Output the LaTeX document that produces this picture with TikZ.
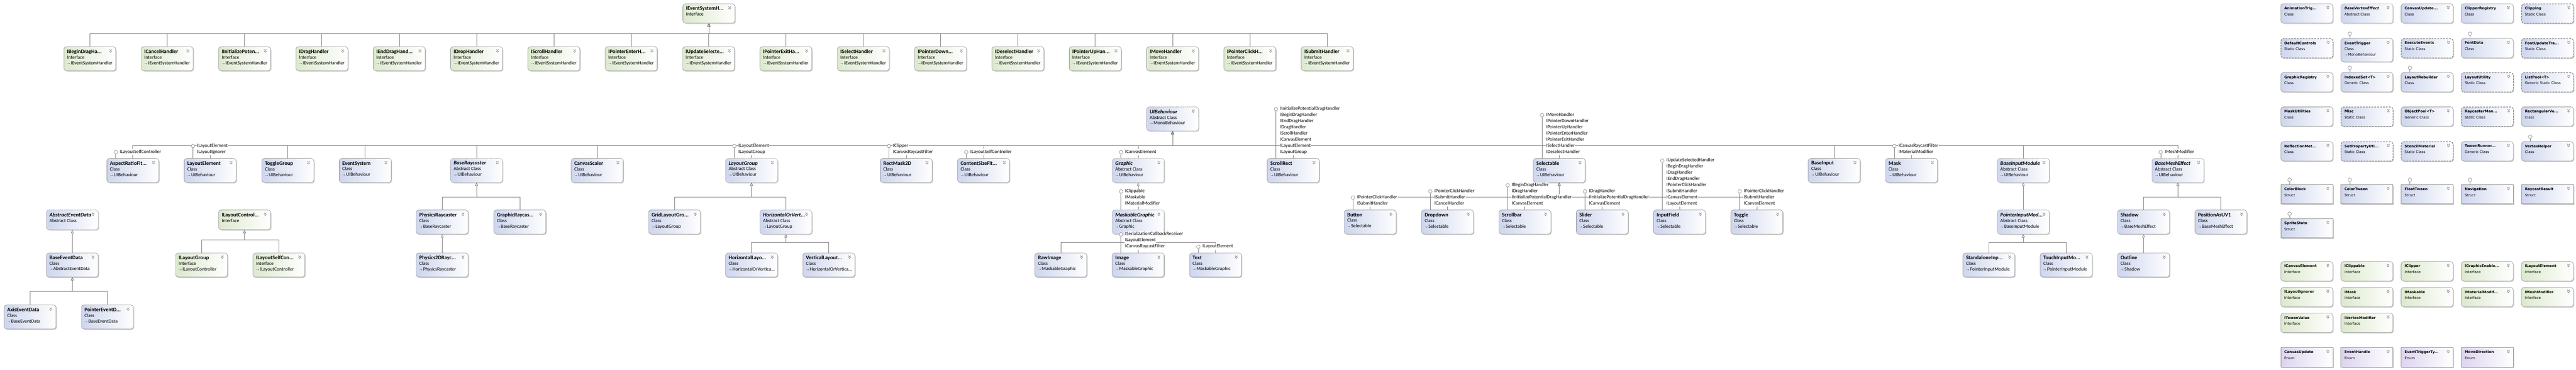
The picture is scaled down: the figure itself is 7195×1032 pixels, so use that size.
\documentclass[tikz,border=0pt]{standalone}
\usepackage{fontspec}
\setmainfont{Carlito}
\newfontfamily\gridfont{DejaVu Sans}
\usepackage{tikz}
\usetikzlibrary{positioning,arrows.meta,shadows}

\definecolor{clsblue}{RGB}{206,214,238}
\definecolor{intgreen}{RGB}{220,233,205}
\definecolor{enumpurple}{RGB}{221,212,240}
\definecolor{edgegray}{RGB}{150,150,150}
\definecolor{linegray}{RGB}{128,128,128}

\tikzset{
  shapebase/.style={draw=edgegray, line width=1pt, anchor=north west, minimum width=145pt, inner sep=0pt,
    drop shadow={shadow xshift=2.5pt, shadow yshift=-2.5pt, fill=black!40, opacity=.45}},
  classbox/.style={shapebase, rounded corners=7pt, left color=clsblue, right color=white},
  abstractbox/.style={classbox, densely dotted},
  staticbox/.style={classbox, draw=gray, line width=1.7pt, dash pattern=on 5pt off 3pt},
  ifacebox/.style={shapebase, rounded corners=7pt, left color=intgreen, right color=white},
  structbox/.style={shapebase, left color=clsblue, right color=white},
  enumbox/.style={shapebase, left color=enumpurple, right color=white},
  boxtext/.style={anchor=north west, inner sep=0pt, align=left, font=\fontsize{13.5}{15.5}\selectfont},
  gridtext/.style={anchor=north west, inner sep=0pt, align=left, font=\gridfont\fontsize{10}{16.5}\selectfont},
  conn/.style={draw=linegray, line width=1pt},
  inherit/.style={conn, -{Triangle[open, length=9pt, width=8pt]}},
  lolli/.style={circle, draw=linegray, fill=white, line width=.9pt, minimum size=10pt, inner sep=0pt},
  ifacelabel/.style={anchor=west, fill=white, inner xsep=1pt, inner ysep=0pt, minimum height=17.2pt,
    text height=9pt, text depth=3pt, font=\fontsize{13.5}{17.2}\selectfont},
  chev/.style={draw=gray, line width=1.1pt}
}

\newcommand\clsname[1]{{\fontsize{15}{15.5}\selectfont\bfseries #1}}
\newcommand\gridname[1]{{\bfseries #1}}
\newcommand\basearrow{{\footnotesize$\rightarrow$}\,}
\newcommand\more{...}

% class shape, its text and the expand chevron
\newcommand\umlbox[6]{%
  \node[#2, minimum height=#5pt] (#1) at (#3,#4) {};
  \node[boxtext] at ([shift={(9pt,-8.5pt)}]#1.north west) {#6};
  \draw[chev] ([shift={(-18.5pt,-8pt)}]#1.north east) -- ++(3.5pt,-3.5pt) -- ++(3.5pt,3.5pt)
    ([shift={(-18.5pt,-12.5pt)}]#1.north east) -- ++(3.5pt,-3.5pt) -- ++(3.5pt,3.5pt);
}
\newcommand\gridbox[6]{%
  \node[#2, minimum height=#5pt] (#1) at (#3,#4) {};
  \node[gridtext] at ([shift={(10pt,-9pt)}]#1.north west) {#6};
  \draw[chev] ([shift={(-17.5pt,-7pt)}]#1.north east) -- ++(3.5pt,-3.5pt) -- ++(3.5pt,3.5pt)
    ([shift={(-17.5pt,-11.5pt)}]#1.north east) -- ++(3.5pt,-3.5pt) -- ++(3.5pt,3.5pt);
}
% interface lollipop above a class, with the list of interfaces
\newcommand\lollipop[2]{%
  \foreach [count=\n] \lbl in {#2} {\xdef\nlines{\n}}
  \pgfmathsetlengthmacro\lift{17pt+(\nlines-1)*17.2pt}
  \node[lolli] (lp#1) at ([shift={(25pt,\lift)}]#1.north west) {};
  \draw[conn] (lp#1) -- (lp#1 |- #1.north);
  \foreach [count=\k from 0] \lbl in {#2}
    \node[ifacelabel] at ([xshift=5pt, yshift={-17.2pt*\k}]lp#1.east) {\lbl};
}

\begin{document}
\begin{tikzpicture}[x=1pt, y=-1pt]
\fill[white] (0,0) rectangle (7195,1032);
\useasboundingbox (0,0) rectangle (7195,1032);

% event system handlers
\umlbox{IEventSys}{ifacebox}{1907}{10}{54}{\clsname{IEventSystemH\more}\\Interface}
\foreach [count=\i from 0] \nm/\ttl in {IBeginDrag/IBeginDragHa\more,ICancel/ICancelHandler,IInitPot/IInitializePoten\more,IDrag/IDragHandler,IEndDrag/IEndDragHand\more,IDrop/IDropHandler,IScroll/IScrollHandler,IPtrEnter/IPointerEnterH\more,IUpdSel/IUpdateSelecte\more,IPtrExit/IPointerExitHa\more,ISelect/ISelectHandler,IPtrDown/IPointerDown\more,IDeselect/IDeselectHandler,IPtrUp/IPointerUpHan\more,IMove/IMoveHandler,IPtrClick/IPointerClickH\more,ISubmit/ISubmitHandler}
  {\umlbox{\nm}{ifacebox}{178+216*\i}{130}{67}{\clsname{\ttl}\\Interface\\\basearrow IEventSystemHandler}}

% UIBehaviour and its subclasses
\umlbox{UIBehaviour}{abstractbox}{3202}{298}{67}{\clsname{\textit{UIBehaviour}}\\Abstract Class\\\basearrow MonoBehaviour}
\foreach \nm/\st/\xx/\ttl/\kind in {AspectRatioFitter/classbox/298/AspectRatioFit\more/Class,LayoutElement/classbox/514/LayoutElement/Class,ToggleGroup/classbox/731/ToggleGroup/Class,EventSystem/classbox/947/EventSystem/Class,BaseRaycaster/abstractbox/1258/\textit{BaseRaycaster}/Abstract Class,CanvasScaler/classbox/1595/CanvasScaler/Class,LayoutGroup/abstractbox/2026/\textit{LayoutGroup}/Abstract Class,RectMask2D/classbox/2458/RectMask2D/Class,ContentSizeFitter/classbox/2674/ContentSizeFit\more/Class,Graphic/abstractbox/3106/\textit{Graphic}/Abstract Class,ScrollRect/classbox/3539/ScrollRect/Class,Selectable/classbox/4282/Selectable/Class,BaseInput/classbox/5050/BaseInput/Class,Mask/classbox/5266/Mask/Class,BaseInputModule/abstractbox/5578/\textit{BaseInputModule}/Abstract Class,BaseMeshEffect/abstractbox/6010/\textit{BaseMeshEffect}/Abstract Class}
  {\umlbox{\nm}{\st}{\xx}{442}{67}{\clsname{\ttl}\\\kind\\\basearrow UIBehaviour}}

% event data
\umlbox{AbstractEventData}{abstractbox}{129}{586}{55}{\clsname{\textit{AbstractEventData}}\\Abstract Class}
\umlbox{BaseEventData}{classbox}{129}{706}{67}{\clsname{BaseEventData}\\Class\\\basearrow AbstractEventData}
\umlbox{AxisEventData}{classbox}{11}{851}{67}{\clsname{AxisEventData}\\Class\\\basearrow BaseEventData}
\umlbox{PointerEventData}{classbox}{227}{851}{67}{\clsname{PointerEventD\more}\\Class\\\basearrow BaseEventData}

% layout controllers
\umlbox{ILayoutController}{ifacebox}{610}{586}{55}{\clsname{ILayoutControl\more}\\Interface}
\umlbox{ILayoutGroup}{ifacebox}{490}{706}{67}{\clsname{ILayoutGroup}\\Interface\\\basearrow ILayoutController}
\umlbox{ILayoutSelfController}{ifacebox}{706}{706}{67}{\clsname{ILayoutSelfCon\more}\\Interface\\\basearrow ILayoutController}

% raycasters
\umlbox{PhysicsRaycaster}{classbox}{1162}{586}{67}{\clsname{PhysicsRaycaster}\\Class\\\basearrow BaseRaycaster}
\umlbox{GraphicRaycaster}{classbox}{1379}{586}{67}{\clsname{GraphicRaycas\more}\\Class\\\basearrow BaseRaycaster}
\umlbox{Physics2DRaycaster}{classbox}{1162}{706}{67}{\clsname{Physics2DRayc\more}\\Class\\\basearrow PhysicsRaycaster}

% layout groups
\umlbox{GridLayoutGroup}{classbox}{1811}{586}{67}{\clsname{GridLayoutGro\more}\\Class\\\basearrow LayoutGroup}
\umlbox{HorOrVertLayoutGroup}{abstractbox}{2122}{586}{67}{\clsname{\textit{HorizontalOrVert\more}}\\Abstract Class\\\basearrow LayoutGroup}
\umlbox{HorizontalLayoutGroup}{classbox}{2026}{706}{67}{\clsname{HorizontalLayo\more}\\Class\\\basearrow HorizontalOrVertica\more}
\umlbox{VerticalLayoutGroup}{classbox}{2242}{706}{67}{\clsname{VerticalLayout\more}\\Class\\\basearrow HorizontalOrVertica\more}

% graphics
\umlbox{MaskableGraphic}{abstractbox}{3106}{586}{67}{\clsname{\textit{MaskableGraphic}}\\Abstract Class\\\basearrow Graphic}
\umlbox{RawImage}{classbox}{2890}{706}{67}{\clsname{RawImage}\\Class\\\basearrow MaskableGraphic}
\umlbox{Image}{classbox}{3106}{706}{67}{\clsname{Image}\\Class\\\basearrow MaskableGraphic}
\umlbox{Text}{classbox}{3322}{706}{67}{\clsname{Text}\\Class\\\basearrow MaskableGraphic}

% selectables
\foreach [count=\i from 0] \nm in {Button,Dropdown,Scrollbar,Slider,InputField,Toggle}
  {\umlbox{\nm}{classbox}{3754+216*\i}{586}{67}{\clsname{\nm}\\Class\\\basearrow Selectable}}

% input modules
\umlbox{PointerInputModule}{abstractbox}{5578}{586}{67}{\clsname{\textit{PointerInputMod\more}}\\Abstract Class\\\basearrow BaseInputModule}
\umlbox{StandaloneInputModule}{classbox}{5482}{706}{67}{\clsname{StandaloneInp\more}\\Class\\\basearrow PointerInputModule}
\umlbox{TouchInputModule}{classbox}{5698}{706}{67}{\clsname{TouchInputMo\more}\\Class\\\basearrow PointerInputModule}

% mesh effects
\umlbox{Shadow}{classbox}{5914}{586}{67}{\clsname{Shadow}\\Class\\\basearrow BaseMeshEffect}
\umlbox{PositionAsUV1}{classbox}{6130}{586}{67}{\clsname{PositionAsUV1}\\Class\\\basearrow BaseMeshEffect}
\umlbox{Outline}{classbox}{5914}{706}{67}{\clsname{Outline}\\Class\\\basearrow Shadow}

% other types, grid on the right
\gridbox{gAnimationTriggers}{classbox}{6370}{10}{54}{\gridname{AnimationTrig\more}\\Class}
\gridbox{gBaseVertexEffect}{abstractbox}{6538}{10}{54}{\gridname{\textit{BaseVertexEffect}}\\Abstract Class}
\gridbox{gCanvasUpdateRegistry}{classbox}{6706}{10}{54}{\gridname{CanvasUpdate\more}\\Class}
\gridbox{gClipperRegistry}{classbox}{6874}{10}{54}{\gridname{ClipperRegistry}\\Class}
\gridbox{gClipping}{staticbox}{7042}{10}{54}{\gridname{Clipping}\\Static Class}
\gridbox{gDefaultControls}{staticbox}{6370}{107}{54}{\gridname{DefaultControls}\\Static Class}
\gridbox{gEventTrigger}{classbox}{6538}{107}{65}{\gridname{EventTrigger}\\Class\\\basearrow MonoBehaviour}
\gridbox{gExecuteEvents}{staticbox}{6706}{107}{54}{\gridname{ExecuteEvents}\\Static Class}
\gridbox{gFontData}{classbox}{6874}{107}{54}{\gridname{FontData}\\Class}
\gridbox{gFontUpdateTracker}{staticbox}{7042}{107}{54}{\gridname{FontUpdateTra\more}\\Static Class}
\gridbox{gGraphicRegistry}{classbox}{6370}{202}{54}{\gridname{GraphicRegistry}\\Class}
\gridbox{gIndexedSet}{classbox}{6538}{202}{54}{\gridname{IndexedSet<T>}\\Generic Class}
\gridbox{gLayoutRebuilder}{classbox}{6706}{202}{54}{\gridname{LayoutRebuilder}\\Class}
\gridbox{gLayoutUtility}{staticbox}{6874}{202}{54}{\gridname{LayoutUtility}\\Static Class}
\gridbox{gListPool}{staticbox}{7042}{202}{54}{\gridname{ListPool<T>}\\Generic Static Class}
\gridbox{gMaskUtilities}{classbox}{6370}{298}{54}{\gridname{MaskUtilities}\\Class}
\gridbox{gMisc}{staticbox}{6538}{298}{54}{\gridname{Misc}\\Static Class}
\gridbox{gObjectPool}{classbox}{6706}{298}{54}{\gridname{ObjectPool<T>}\\Generic Class}
\gridbox{gRaycasterManager}{staticbox}{6874}{298}{54}{\gridname{RaycasterMan\more}\\Static Class}
\gridbox{gRectangularVertexClipper}{classbox}{7042}{298}{54}{\gridname{RectangularVe\more}\\Class}
\gridbox{gReflectionMethods}{classbox}{6370}{395}{54}{\gridname{ReflectionMet\more}\\Class}
\gridbox{gSetPropertyUtility}{staticbox}{6538}{395}{54}{\gridname{SetPropertyUti\more}\\Static Class}
\gridbox{gStencilMaterial}{staticbox}{6706}{395}{54}{\gridname{StencilMaterial}\\Static Class}
\gridbox{gTweenRunner}{classbox}{6874}{395}{54}{\gridname{TweenRunner\more}\\Generic Class}
\gridbox{gVertexHelper}{classbox}{7042}{395}{54}{\gridname{VertexHelper}\\Class}
\gridbox{gColorBlock}{structbox}{6370}{515}{54}{\gridname{ColorBlock}\\Struct}
\gridbox{gColorTween}{structbox}{6538}{515}{54}{\gridname{ColorTween}\\Struct}
\gridbox{gFloatTween}{structbox}{6706}{515}{54}{\gridname{FloatTween}\\Struct}
\gridbox{gNavigation}{structbox}{6874}{515}{54}{\gridname{Navigation}\\Struct}
\gridbox{gRaycastResult}{structbox}{7042}{515}{54}{\gridname{RaycastResult}\\Struct}
\gridbox{gSpriteState}{structbox}{6370}{610}{54}{\gridname{SpriteState}\\Struct}
\gridbox{gICanvasElement}{ifacebox}{6370}{730}{54}{\gridname{ICanvasElement}\\Interface}
\gridbox{gIClippable}{ifacebox}{6538}{730}{54}{\gridname{IClippable}\\Interface}
\gridbox{gIClipper}{ifacebox}{6706}{730}{54}{\gridname{IClipper}\\Interface}
\gridbox{gIGraphicEnabledDisabled}{ifacebox}{6874}{730}{54}{\gridname{IGraphicEnable\more}\\Interface}
\gridbox{gILayoutElement}{ifacebox}{7042}{730}{54}{\gridname{ILayoutElement}\\Interface}
\gridbox{gILayoutIgnorer}{ifacebox}{6370}{802}{54}{\gridname{ILayoutIgnorer}\\Interface}
\gridbox{gIMask}{ifacebox}{6538}{802}{54}{\gridname{IMask}\\Interface}
\gridbox{gIMaskable}{ifacebox}{6706}{802}{54}{\gridname{IMaskable}\\Interface}
\gridbox{gIMaterialModifier}{ifacebox}{6874}{802}{54}{\gridname{IMaterialModif\more}\\Interface}
\gridbox{gIMeshModifier}{ifacebox}{7042}{802}{54}{\gridname{IMeshModifier}\\Interface}
\gridbox{gITweenValue}{ifacebox}{6370}{874}{54}{\gridname{ITweenValue}\\Interface}
\gridbox{gIVertexModifier}{ifacebox}{6538}{874}{54}{\gridname{IVertexModifier}\\Interface}
\gridbox{gCanvasUpdate}{enumbox}{6370}{970}{54}{\gridname{CanvasUpdate}\\Enum}
\gridbox{gEventHandle}{enumbox}{6538}{970}{54}{\gridname{EventHandle}\\Enum}
\gridbox{gEventTriggerType}{enumbox}{6706}{970}{54}{\gridname{EventTriggerTy\more}\\Enum}
\gridbox{gMoveDirection}{enumbox}{6874}{970}{54}{\gridname{MoveDirection}\\Enum}

% inheritance
\foreach \nm in {IBeginDrag,ICancel,IInitPot,IDrag,IEndDrag,IDrop,IScroll,IPtrEnter,IUpdSel,IPtrExit,ISelect,IPtrDown,IDeselect,IPtrUp,IMove,IPtrClick,ISubmit}
  \draw[inherit] (\nm.north) -- ++(0,-36) -| (IEventSys.south);
\foreach \nm in {AspectRatioFitter,LayoutElement,ToggleGroup,EventSystem,BaseRaycaster,CanvasScaler,LayoutGroup,RectMask2D,ContentSizeFitter,Graphic,ScrollRect,Selectable,BaseInput,Mask,BaseInputModule,BaseMeshEffect}
  \draw[inherit] (\nm.north) -- ++(0,-36) -| (UIBehaviour.south);
\draw[inherit] (BaseEventData.north) -- (AbstractEventData.south);
\foreach \nm in {AxisEventData,PointerEventData}
  \draw[inherit] (\nm.north) -- ++(0,-37) -| (BaseEventData.south);
\foreach \nm in {ILayoutGroup,ILayoutSelfController}
  \draw[inherit] (\nm.north) -- ++(0,-36) -| (ILayoutController.south);
\foreach \nm in {PhysicsRaycaster,GraphicRaycaster}
  \draw[inherit] (\nm.north) -- ++(0,-36) -| (BaseRaycaster.south);
\draw[inherit] (Physics2DRaycaster.north) -- (PhysicsRaycaster.south);
\foreach \nm in {GridLayoutGroup,HorOrVertLayoutGroup}
  \draw[inherit] (\nm.north) -- ++(0,-36) -| (LayoutGroup.south);
\foreach \nm in {HorizontalLayoutGroup,VerticalLayoutGroup}
  \draw[inherit] (\nm.north) -- ++(0,-29) -| (HorOrVertLayoutGroup.south);
\draw[inherit] (MaskableGraphic.north) -- (Graphic.south);
\foreach \nm in {RawImage,Image,Text}
  \draw[inherit] (\nm.north) -- ++(0,-29) -| (MaskableGraphic.south);
\foreach \nm in {Button,Dropdown,Scrollbar,Slider,InputField,Toggle}
  \draw[inherit] (\nm.north) -- ++(0,-36) -| (Selectable.south);
\draw[inherit] (PointerInputModule.north) -- (BaseInputModule.south);
\foreach \nm in {StandaloneInputModule,TouchInputModule}
  \draw[inherit] (\nm.north) -- ++(0,-29) -| (PointerInputModule.south);
\foreach \nm in {Shadow,PositionAsUV1}
  \draw[inherit] (\nm.north) -- ++(0,-36) -| (BaseMeshEffect.south);
\draw[inherit] (Outline.north) -- (Shadow.south);

% implemented interfaces
\lollipop{AspectRatioFitter}{ILayoutSelfController}
\lollipop{LayoutElement}{ILayoutElement,ILayoutIgnorer}
\lollipop{LayoutGroup}{ILayoutElement,ILayoutGroup}
\lollipop{RectMask2D}{IClipper,ICanvasRaycastFilter}
\lollipop{ContentSizeFitter}{ILayoutSelfController}
\lollipop{Graphic}{ICanvasElement}
\lollipop{ScrollRect}{IInitializePotentialDragHandler,IBeginDragHandler,IEndDragHandler,IDragHandler,IScrollHandler,ICanvasElement,ILayoutElement,ILayoutGroup}
\lollipop{Selectable}{IMoveHandler,IPointerDownHandler,IPointerUpHandler,IPointerEnterHandler,IPointerExitHandler,ISelectHandler,IDeselectHandler}
\lollipop{Mask}{ICanvasRaycastFilter,IMaterialModifier}
\lollipop{BaseMeshEffect}{IMeshModifier}
\lollipop{MaskableGraphic}{IClippable,IMaskable,IMaterialModifier}
\lollipop{Button}{IPointerClickHandler,ISubmitHandler}
\lollipop{Dropdown}{IPointerClickHandler,ISubmitHandler,ICancelHandler}
\lollipop{Scrollbar}{IBeginDragHandler,IDragHandler,IInitializePotentialDragHandler,ICanvasElement}
\lollipop{Slider}{IDragHandler,IInitializePotentialDragHandler,ICanvasElement}
\lollipop{InputField}{IUpdateSelectedHandler,IBeginDragHandler,IDragHandler,IEndDragHandler,IPointerClickHandler,ISubmitHandler,ICanvasElement,ILayoutElement}
\lollipop{Toggle}{IPointerClickHandler,ISubmitHandler,ICanvasElement}
\lollipop{Image}{ISerializationCallbackReceiver,ILayoutElement,ICanvasRaycastFilter}
\lollipop{Text}{ILayoutElement}
\foreach \nm in {gEventTrigger,gFontData,gIndexedSet,gLayoutRebuilder,gVertexHelper,gColorBlock,gColorTween,gFloatTween,gNavigation,gSpriteState}
  {\node[lolli] (lp\nm) at ([shift={(25pt,13pt)}]\nm.north west) {};
   \draw[conn] (lp\nm) -- (lp\nm |- \nm.north);}
\end{tikzpicture}
\end{document}
